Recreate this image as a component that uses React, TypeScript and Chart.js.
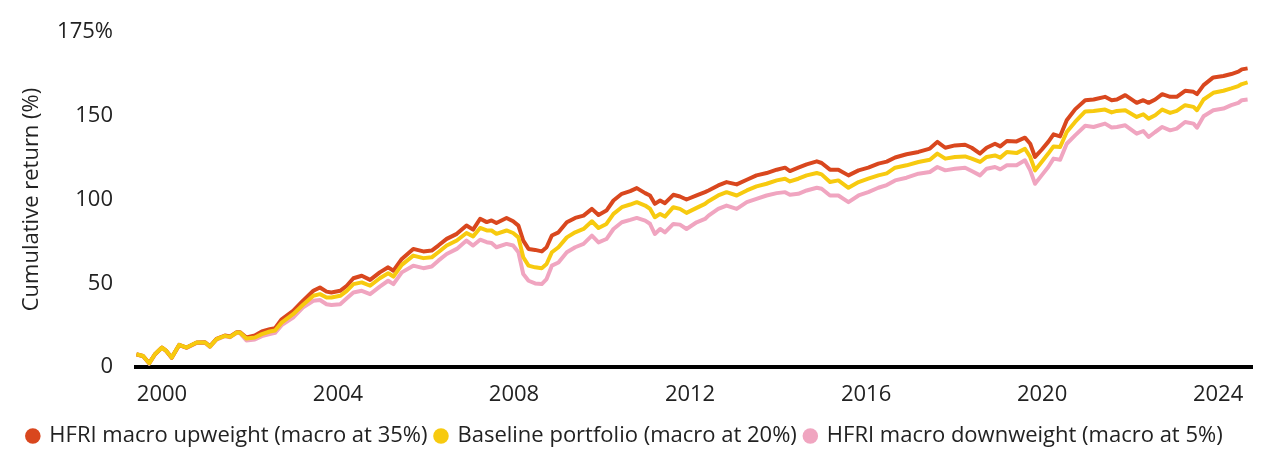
import React, { useEffect, useRef } from "react";
import { Chart, registerables } from "chart.js";

Chart.register(...registerables);

// Time (decimal years) at which values were read
const dates = [
  1999.42, 1999.57, 1999.71, 1999.84, 2000.0, 2000.1, 2000.22, 2000.39, 2000.56, 2000.79,
  2000.98, 2001.09, 2001.24, 2001.43, 2001.55, 2001.7, 2001.77, 2001.92, 2002.11, 2002.27,
  2002.45, 2002.57, 2002.72, 2002.98, 2003.2, 2003.44, 2003.59, 2003.74, 2003.85, 2004.05,
  2004.2, 2004.35, 2004.54, 2004.73, 2004.95, 2005.14, 2005.26, 2005.45, 2005.71, 2005.94,
  2006.13, 2006.28, 2006.47, 2006.7, 2006.92, 2007.07, 2007.23, 2007.38, 2007.49, 2007.6,
  2007.83, 2007.98, 2008.1, 2008.21, 2008.33, 2008.48, 2008.63, 2008.74, 2008.86, 2009.01,
  2009.2, 2009.39, 2009.58, 2009.77, 2009.92, 2010.1, 2010.26, 2010.45, 2010.64, 2010.79,
  2010.98, 2011.09, 2011.2, 2011.32, 2011.43, 2011.62, 2011.77, 2011.92, 2012.15, 2012.34,
  2012.42, 2012.64, 2012.83, 2013.06, 2013.29, 2013.51, 2013.74, 2013.97, 2014.16, 2014.27,
  2014.46, 2014.65, 2014.88, 2014.99, 2015.18, 2015.37, 2015.6, 2015.83, 2016.05, 2016.28,
  2016.47, 2016.66, 2016.92, 2017.19, 2017.45, 2017.62, 2017.8, 2018.02, 2018.25, 2018.4,
  2018.59, 2018.74, 2018.93, 2019.05, 2019.2, 2019.42, 2019.61, 2019.73, 2019.84, 2019.99,
  2020.14, 2020.26, 2020.41, 2020.56, 2020.75, 2020.98, 2021.17, 2021.43, 2021.58, 2021.7,
  2021.89, 2022.15, 2022.3, 2022.42, 2022.57, 2022.73, 2022.91, 2023.06, 2023.25, 2023.44,
  2023.52, 2023.67, 2023.89, 2024.12, 2024.3, 2024.46, 2024.54, 2024.67,
];

const upweight = [
  7.6, 6.6, 2.4, 7.6, 11.6, 9.6, 5.6, 13.2, 11.6, 14.6,
  14.8, 12.4, 16.8, 18.8, 18.2, 20.8, 20.8, 17.6, 18.8, 21.2,
  22.6, 23.2, 28.5, 33.5, 39.5, 45.5, 47.5, 45.0, 44.5, 45.5,
  48.5, 53.0, 54.5, 52.0, 56.5, 59.5, 57.5, 64.5, 70.5, 69.0,
  69.5, 72.5, 76.5, 79.5, 84.5, 82.0, 88.5, 86.5, 87.5, 86.0,
  89.0, 87.0, 84.4, 75.4, 70.5, 69.9, 69.0, 71.5, 78.5, 80.4,
  86.4, 89.0, 90.4, 94.4, 90.8, 93.4, 99.4, 103.4, 105.0, 106.8,
  103.8, 102.4, 97.4, 99.4, 97.8, 102.8, 101.8, 100.0, 102.4, 104.4,
  105.4, 108.4, 110.4, 109.0, 111.8, 114.4, 115.8, 117.8, 119.0, 117.0,
  119.0, 121.0, 122.8, 121.8, 117.8, 117.8, 114.4, 117.4, 119.0, 121.4,
  122.6, 125.1, 127.0, 128.4, 130.4, 134.4, 130.9, 132.3, 132.7, 130.9,
  127.4, 130.9, 133.3, 131.7, 134.9, 134.7, 136.9, 133.3, 125.4, 129.7,
  134.4, 138.9, 137.7, 147.3, 153.8, 159.3, 159.7, 161.3, 159.3, 159.7,
  162.3, 157.7, 159.3, 157.7, 159.7, 162.9, 161.3, 161.3, 164.9, 164.3,
  162.9, 168.3, 172.9, 173.7, 174.9, 176.3, 177.7, 178.3,
];

const baseline = [
  7.6, 6.6, 2.2, 7.6, 11.6, 9.6, 5.6, 13.2, 11.6, 14.6,
  14.6, 12.2, 16.6, 18.6, 18.0, 20.6, 20.6, 17.0, 17.6, 19.6,
  21.2, 21.8, 26.5, 31.5, 37.0, 42.5, 43.5, 41.5, 41.5, 42.5,
  45.5, 49.5, 50.5, 48.5, 53.0, 56.0, 54.0, 61.0, 66.5, 65.0,
  65.5, 68.5, 72.5, 75.5, 80.0, 78.0, 83.0, 81.5, 81.5, 79.5,
  81.5, 80.0, 77.4, 65.5, 60.5, 59.5, 59.0, 61.5, 68.5, 71.5,
  77.4, 80.4, 82.4, 87.0, 83.0, 85.4, 91.4, 95.4, 97.0, 98.4,
  96.4, 94.5, 89.4, 91.4, 89.8, 95.4, 94.4, 92.0, 95.0, 97.4,
  99.0, 102.4, 104.4, 102.4, 105.4, 107.8, 109.4, 111.4, 112.4, 110.8,
  112.4, 114.4, 115.8, 115.0, 110.4, 111.4, 107.0, 110.4, 112.4, 114.4,
  115.6, 119.0, 120.4, 122.4, 123.7, 127.4, 124.4, 125.4, 125.7, 124.4,
  122.4, 125.4, 126.3, 125.0, 128.4, 127.7, 130.3, 125.4, 117.4, 122.4,
  127.4, 131.7, 131.3, 140.3, 146.3, 152.6, 152.9, 153.7, 152.0, 152.9,
  153.3, 149.3, 150.9, 148.3, 150.3, 153.7, 151.7, 152.9, 156.3, 155.3,
  153.3, 159.7, 163.7, 164.9, 166.3, 167.7, 168.9, 169.9,
];

const downweight = [
  7.4, 6.4, 2.0, 7.4, 11.4, 9.4, 5.4, 13.0, 11.4, 14.4,
  14.4, 12.0, 16.4, 18.4, 17.8, 20.4, 20.4, 15.8, 16.4, 18.4,
  19.6, 20.4, 25.0, 29.5, 35.5, 39.5, 40.0, 37.5, 37.0, 37.5,
  41.0, 44.5, 45.5, 43.5, 48.0, 51.5, 49.5, 56.5, 60.5, 59.0,
  60.0, 63.5, 67.5, 70.5, 75.5, 72.5, 76.0, 74.5, 74.0, 71.5,
  73.5, 72.5, 68.5, 55.5, 51.5, 49.9, 49.5, 52.5, 60.5, 62.4,
  68.5, 71.5, 73.5, 78.4, 74.4, 76.4, 82.4, 86.4, 87.8, 89.0,
  87.4, 85.5, 79.4, 82.4, 80.4, 85.4, 85.0, 82.4, 86.4, 88.4,
  90.4, 94.4, 96.4, 94.4, 98.4, 100.4, 102.4, 103.8, 104.4, 102.8,
  103.4, 105.4, 107.0, 106.4, 102.4, 102.4, 98.4, 102.4, 104.4, 107.0,
  108.6, 111.4, 113.0, 115.4, 116.4, 119.4, 117.4, 118.4, 119.0, 117.0,
  114.4, 118.4, 119.4, 118.0, 120.4, 120.4, 123.4, 117.4, 109.4, 114.4,
  119.4, 124.4, 123.7, 133.3, 138.3, 144.0, 143.3, 145.3, 143.0, 143.3,
  144.3, 139.3, 140.9, 137.3, 140.3, 143.3, 141.3, 142.3, 146.3, 145.3,
  142.9, 149.7, 153.3, 154.3, 156.3, 157.7, 159.3, 159.7,
];

const seriesNames = [
  "HFRI macro upweight (macro at 35%)",
  "Baseline portfolio (macro at 20%)",
  "HFRI macro downweight (macro at 5%)",
];
const seriesColors = ["#D9471E", "#F7CA0F", "#F0A5C0"];

const xTickYears = [2000, 2004, 2008, 2012, 2016, 2020, 2024];
const yTickValues = [0, 50, 100, 150];
const yTopLabel = "175%";
const yTitle = "Cumulative return (%)";

const FONT = "'Open Sans', 'Liberation Sans', sans-serif";
const FONT_SIZE = 22;
const TEXT_COLOR = "#222222";

const topLabelPlugin = {
  id: "topLabel",
  afterLayout(chart: any) {
    if (chart.legend) {
      chart.legend.left -= 5;
      chart.legend.right -= 5;
    }
  },
  afterDraw(chart: any) {
    const { ctx, chartArea } = chart;
    const yScale = chart.scales.y;
    ctx.save();
    ctx.font = `400 ${FONT_SIZE}px ${FONT}`;
    ctx.fillStyle = TEXT_COLOR;
    ctx.textAlign = "right";
    ctx.textBaseline = "middle";
    ctx.fillText(yTopLabel, yScale.right - 23, chartArea.top);
    ctx.restore();
  },
};

export default function App() {
  const canvasRef = useRef<HTMLCanvasElement | null>(null);

  useEffect(() => {
    if (!canvasRef.current) return;
    const toPoints = (vals: number[]) => vals.map((v, i) => ({ x: dates[i], y: v }));
    const allSeries = [upweight, baseline, downweight];
    const drawOrder = [1, 0, 2];
    const chart = new Chart(canvasRef.current, {
      type: "line",
      data: {
        datasets: allSeries.map((vals, i) => ({
          label: seriesNames[i],
          data: toPoints(vals),
          borderColor: seriesColors[i],
          backgroundColor: seriesColors[i],
          borderWidth: 4,
          pointRadius: 0,
          pointHoverRadius: 0,
          tension: 0,
          borderJoinStyle: "round" as const,
          pointStyle: "circle" as const,
          order: drawOrder[i],
        })),
      },
      options: {
        animation: false,
        responsive: true,
        maintainAspectRatio: false,
        layout: { padding: { top: 24, bottom: 4, left: 0, right: 20 } },
        plugins: {
          tooltip: { enabled: false },
          legend: {
            position: "bottom",
            align: "center",
            labels: {
              usePointStyle: true,
              boxWidth: 11,
              boxHeight: 11,
              padding: 8,
              color: TEXT_COLOR,
              font: { family: FONT, size: FONT_SIZE },
              sort: (a: any, b: any) => a.datasetIndex - b.datasetIndex,
              generateLabels: (chart: any) =>
                chart.data.datasets.map((ds: any, i: number) => ({
                  text: ds.label,
                  fillStyle: ds.backgroundColor,
                  strokeStyle: ds.backgroundColor,
                  lineWidth: 0,
                  pointStyle: "circle",
                  hidden: false,
                  datasetIndex: i,
                  fontColor: TEXT_COLOR,
                })),
            },
          },
        },
        scales: {
          x: {
            type: "linear",
            min: 1999.41,
            max: 2024.77,
            afterBuildTicks: (scale: any) => {
              scale.ticks = xTickYears.map((v) => ({ value: v }));
            },
            afterFit: (scale: any) => {
              scale.height = 50;
            },
            grid: { display: false, drawTicks: false },
            border: { display: true, color: "#000000", width: 4 },
            ticks: {
              padding: 15,
              maxRotation: 0,
              autoSkip: false,
              color: TEXT_COLOR,
              font: { family: FONT, size: FONT_SIZE },
              callback: (v: any) => String(v),
            },
          },
          y: {
            type: "linear",
            min: 0,
            max: 200,
            afterBuildTicks: (scale: any) => {
              scale.ticks = yTickValues.map((v) => ({ value: v }));
            },
            afterFit: (scale: any) => {
              scale.width = 128;
            },
            grid: { display: false, drawTicks: true, tickLength: 20 },
            border: { display: false },
            title: {
              display: true,
              text: yTitle,
              color: TEXT_COLOR,
              font: { family: FONT, size: FONT_SIZE },
              padding: { top: 11, bottom: 0 },
            },
            ticks: {
              padding: 3,
              color: TEXT_COLOR,
              font: { family: FONT, size: FONT_SIZE },
              callback: (v: any) => String(v),
            },
          },
        },
      },
      plugins: [topLabelPlugin],
    });
    return () => chart.destroy();
  }, []);

  return (
    <div style={{ width: "1264px", height: "453px", position: "relative" }}>
      <canvas ref={canvasRef} />
    </div>
  );
}
